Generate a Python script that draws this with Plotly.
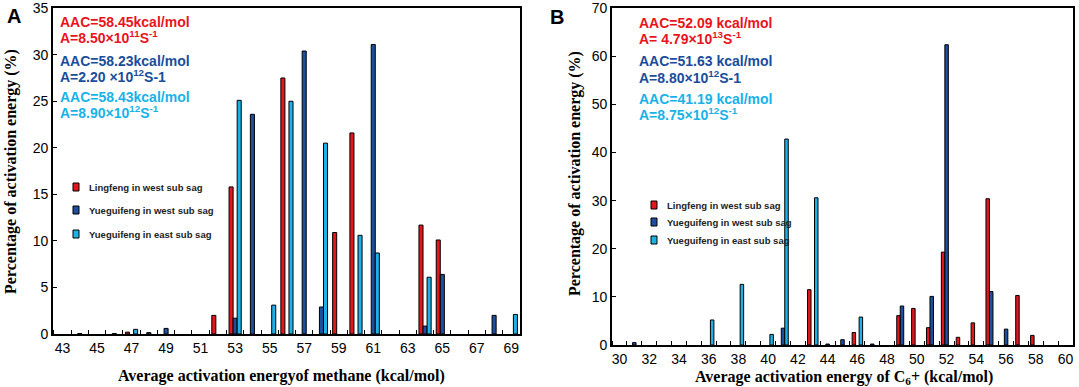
import plotly.graph_objects as go

# ---------------- Panel A data (methane) ----------------
red_a_x = [47, 52, 53, 56, 59, 60, 64, 65]
red_a_y = [0.2, 2.0, 15.8, 27.5, 10.9, 21.6, 11.7, 10.1]
blue_a_x = [44, 46, 48, 49, 53, 54, 57, 58, 61, 64, 65, 68]
blue_a_y = [0.05, 0.05, 0.15, 0.6, 1.7, 23.6, 30.4, 2.9, 31.1, 0.85, 6.4, 2.0]
cyan_a_x = [47, 53, 55, 56, 58, 60, 61, 64, 69]
cyan_a_y = [0.5, 25.1, 3.1, 25.0, 20.5, 10.6, 8.7, 6.1, 2.1]
ticks_a = list(range(43, 70, 2))

# ---------------- Panel B data (C6+) ----------------
red_b_x = [43, 46, 49, 50, 51, 52, 53, 54, 55, 57, 58]
red_b_y = [11.5, 2.6, 6.1, 7.6, 3.6, 19.3, 1.6, 4.6, 30.4, 10.3, 2.0]
blue_b_x = [31, 41, 44, 45, 47, 49, 51, 52, 55, 56]
blue_b_y = [0.5, 3.5, 0.2, 1.1, 0.2, 8.1, 10.1, 62.4, 11.1, 3.3]
cyan_b_x = [36, 38, 40, 41, 43, 46]
cyan_b_y = [5.2, 12.6, 2.2, 42.8, 30.6, 5.8]
ticks_b = list(range(30, 61, 2))

series_names = ["Lingfeng in west sub sag", "Yueguifeng in west sub sag", "Yueguifeng in east sub sag"]
RED, BLUE, CYAN = "#e3161d", "#1d4f9e", "#1eb1e6"
TXT_RED, TXT_BLUE, TXT_CYAN = "#e8141c", "#1a4d9c", "#19b2e8"

W = 1079
H = 387
BW = 0.235
offsets = [-1.5 * BW, -0.5 * BW, 0.5 * BW]

fig = go.Figure()

def add_bars(xs, ys, color, off, xa, ya, name):
    fig.add_trace(go.Bar(
        x=xs, y=ys, width=BW, offset=off, name=name,
        marker=dict(color=color, line=dict(color="black", width=1)),
        xaxis=xa, yaxis=ya, showlegend=False))

add_bars(red_a_x, red_a_y, RED, offsets[0], "x", "y", series_names[0])
add_bars(blue_a_x, blue_a_y, BLUE, offsets[1], "x", "y", series_names[1])
add_bars(cyan_a_x, cyan_a_y, CYAN, offsets[2], "x", "y", series_names[2])
add_bars(red_b_x, red_b_y, RED, offsets[0], "x2", "y2", series_names[0])
add_bars(blue_b_x, blue_b_y, BLUE, offsets[1], "x2", "y2", series_names[1])
add_bars(cyan_b_x, cyan_b_y, CYAN, offsets[2], "x2", "y2", series_names[2])

def px_x(p):
    return p / W

def px_y(p):
    return 1 - p / H

tickfont = dict(family="Liberation Sans, Arial", size=14, color="black")
axis_common = dict(showline=True, mirror=True, linecolor="black", linewidth=1.6,
                   showgrid=False, zeroline=False, tickfont=tickfont, automargin=False,
                   ticklabeloverflow="allow")

fig.update_layout(
    width=W, height=H,
    margin=dict(l=0, r=0, t=0, b=0),
    paper_bgcolor="white", plot_bgcolor="white",
    barmode="overlay",
    template="none",
    xaxis=dict(domain=[px_x(53), px_x(520)], range=[42.45, 69.5], anchor="y",
               tickmode="array", tickvals=ticks_a, ticks="",
               minor=dict(tickmode="array", tickvals=[v + 0.5 for v in range(42, 69)],
                          ticks="inside", ticklen=4, tickcolor="black", tickwidth=1),
               **axis_common),
    yaxis=dict(domain=[px_y(334), px_y(8)], range=[0, 35.02], anchor="x",
               tickmode="array", tickvals=list(range(0, 36, 5)), ticks="inside",
               ticklen=4, tickcolor="black", **axis_common),
    xaxis2=dict(domain=[px_x(612), px_x(1073)], range=[29.5, 60.5], anchor="y2",
                tickmode="array", tickvals=ticks_b, ticks="",
                minor=dict(tickmode="array", tickvals=[v + 0.5 for v in range(29, 60)],
                           ticks="inside", ticklen=4, tickcolor="black", tickwidth=1),
                **axis_common),
    yaxis2=dict(domain=[px_y(345), px_y(8)], range=[0, 70.04], anchor="x2",
                tickmode="array", tickvals=list(range(0, 71, 10)), ticks="inside",
                ticklen=4, tickcolor="black", **axis_common),
)

anns = []
shapes = []

def note(x, y, text, color="black", size=14, family="Liberation Sans, Arial",
         xanchor="left", angle=0):
    anns.append(dict(x=px_x(x), y=px_y(y), xref="paper", yref="paper", text=text,
                     showarrow=False, xanchor=xanchor, yanchor="middle", textangle=angle,
                     font=dict(family=family, size=size, color=color)))

serif = "Liberation Serif, Times New Roman"

# Panel letters
note(14, 16, "<b>A</b>", size=20, xanchor="center")
note(557, 17, "<b>B</b>", size=20, xanchor="center")

# Axis titles
note(281, 376, "<b>Average activation energyof methane (kcal/mol)</b>", size=16,
     family=serif, xanchor="center")
note(844, 377, "<b>Average activation energy of C<sub>6</sub>+ (kcal/mol)</b>", size=16,
     family=serif, xanchor="center")
note(11, 172, "<b>Percentage of activation energy (%)</b>", size=16, family=serif,
     xanchor="center", angle=-90)
note(575, 174, "<b>Percentage of activation energy (%)</b>", size=16, family=serif,
     xanchor="center", angle=-90)

# Panel A kinetic notes
note(58, 22, "<b>AAC=58.45kcal/mol</b>", TXT_RED)
note(58, 37, "<b>A=8.50×10<sup>11</sup>S<sup>-1</sup></b>", TXT_RED)
note(58, 61, "<b>AAC=58.23kcal/mol</b>", TXT_BLUE)
note(58, 76, "<b>A=2.20 ×10<sup>12</sup>S-1</b>", TXT_BLUE)
note(58, 97, "<b>AAC=58.43kcal/mol</b>", TXT_CYAN)
note(58, 112, "<b>A=8.90×10<sup>12</sup>S<sup>-1</sup></b>", TXT_CYAN)

# Panel B kinetic notes
note(637, 23, "<b>AAC=52.09 kcal/mol</b>", TXT_RED)
note(637, 38, "<b>A= 4.79×10<sup>13</sup>S<sup>-1</sup></b>", TXT_RED)
note(637, 61, "<b>AAC=51.63 kcal/mol</b>", TXT_BLUE)
note(637, 77, "<b>A=8.80×10<sup>12</sup>S-1</b>", TXT_BLUE)
note(637, 99, "<b>AAC=41.19 kcal/mol</b>", TXT_CYAN)
note(637, 114, "<b>A=8.75×10<sup>12</sup>S<sup>-1</sup></b>", TXT_CYAN)

# Legends (drawn manually)
def legend(x0, ys, text_x, size):
    for yy, col, name in zip(ys, [RED, BLUE, CYAN], series_names):
        shapes.append(dict(type="rect", xref="paper", yref="paper",
                           x0=px_x(x0), x1=px_x(x0 + 6), y0=px_y(yy + 4), y1=px_y(yy - 4),
                           fillcolor=col, line=dict(color="black", width=1)))
        note(text_x, yy, "<b>" + name + "</b>", "#222222", size=size)

legend(73, [187, 210, 234], 87, 9.5)
legend(651, [205, 222, 240], 665, 9.5)

fig.update_layout(annotations=anns, shapes=shapes)
fig.write_html("out.html", config={"displayModeBar": False},
               post_script="document.body.style.margin='0';document.body.style.overflow='hidden';")
